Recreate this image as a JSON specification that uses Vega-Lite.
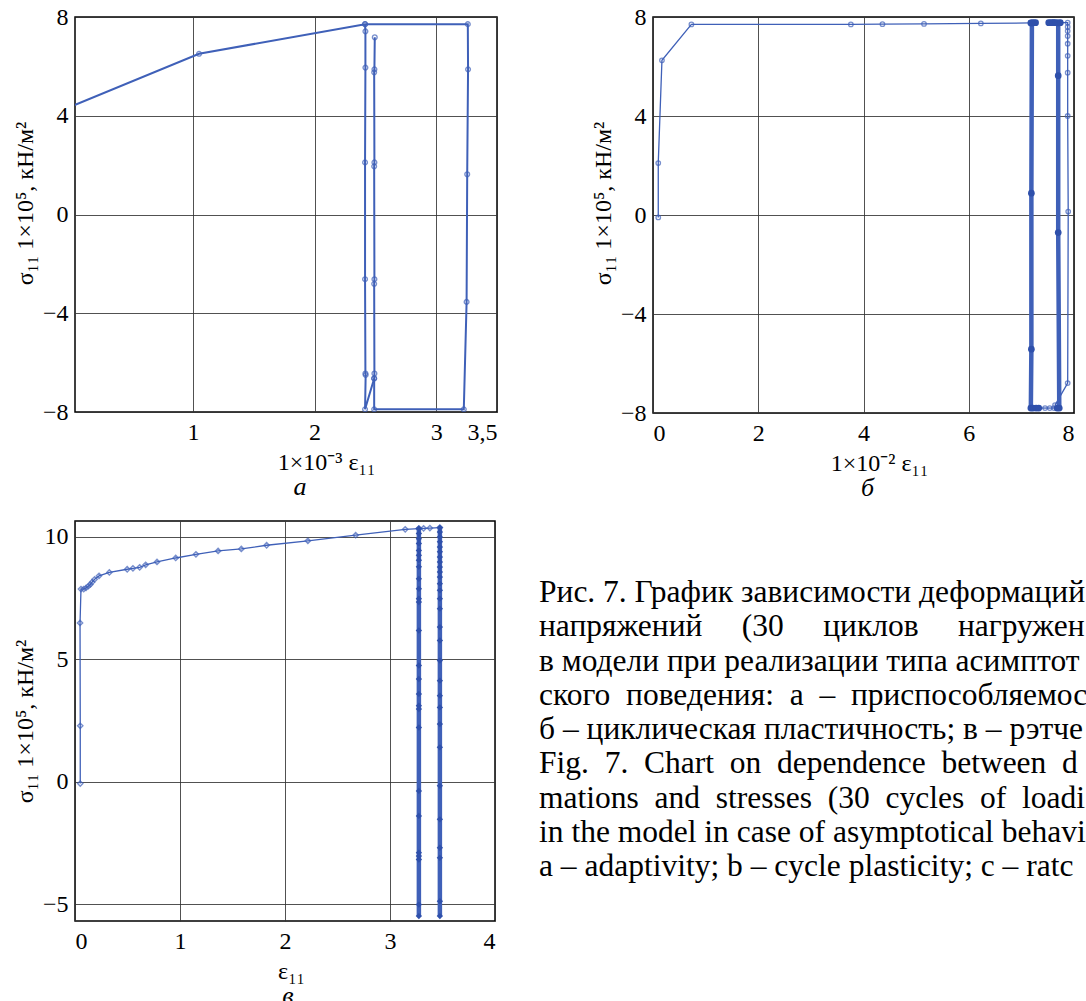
{
  "$schema": "https://vega.github.io/schema/vega-lite/v6.json",
  "background": "white",
  "padding": {"left": 12, "top": 4, "right": 0, "bottom": 0},
  "config": {
    "view": {"stroke": "#000", "strokeWidth": 1.5},
    "axis": {
      "labelFont": "Liberation Serif", "labelFontSize": 24, "labelColor": "#000",
      "titleFont": "Liberation Serif", "titleFontSize": 24, "titleFontWeight": "normal", "titleColor": "#000",
      "grid": true, "gridColor": "#333", "gridWidth": 1, "gridOpacity": 0.85,
      "domain": false, "ticks": false, "tickSize": 0
    },
    "axisX": {"labelPadding": 8, "titlePadding": 6},
    "axisY": {"labelPadding": 7, "titlePadding": 5},
    "title": {"font": "Liberation Serif", "fontSize": 26, "fontStyle": "italic", "fontWeight": "normal", "color": "#000"}
  },
  "datasets": {
    "a": [
      {"i": 1, "seg": 1, "x": 0, "y": 4.38},
      {"i": 2, "seg": 1, "x": 1.05, "y": 6.51},
      {"i": 3, "seg": 1, "x": 2.415, "y": 7.71},
      {"i": 4, "seg": 1, "x": 3.26, "y": 7.71},
      {"i": 5, "seg": 1, "x": 3.262, "y": 5.88},
      {"i": 6, "seg": 1, "x": 3.255, "y": 1.63},
      {"i": 7, "seg": 1, "x": 3.25, "y": -3.54},
      {"i": 8, "seg": 1, "x": 3.227, "y": -7.89},
      {"i": 9, "seg": 1, "x": 2.49, "y": -7.89},
      {"i": 10, "seg": 1, "x": 2.49, "y": -6.64},
      {"i": 11, "seg": 1, "x": 2.492, "y": -6.44},
      {"i": 12, "seg": 1, "x": 2.49, "y": -2.81},
      {"i": 13, "seg": 1, "x": 2.492, "y": -2.62},
      {"i": 14, "seg": 1, "x": 2.49, "y": 1.95},
      {"i": 15, "seg": 1, "x": 2.492, "y": 2.11},
      {"i": 16, "seg": 1, "x": 2.49, "y": 5.76},
      {"i": 17, "seg": 1, "x": 2.492, "y": 5.88},
      {"i": 18, "seg": 1, "x": 2.495, "y": 7.18},
      {"i": 19, "seg": 2, "x": 2.415, "y": 7.71},
      {"i": 20, "seg": 2, "x": 2.418, "y": 7.42},
      {"i": 21, "seg": 2, "x": 2.418, "y": 5.95},
      {"i": 22, "seg": 2, "x": 2.415, "y": 2.11},
      {"i": 23, "seg": 2, "x": 2.415, "y": -2.62},
      {"i": 24, "seg": 2, "x": 2.418, "y": -6.44},
      {"i": 25, "seg": 2, "x": 2.42, "y": -6.5},
      {"i": 26, "seg": 2, "x": 2.415, "y": -7.89},
      {"i": 27, "seg": 2, "x": 2.49, "y": -6.64}
    ],
    "b": [
      {"i": 1, "seg": 1, "part": "load", "x": 0.1, "y": -0.1},
      {"i": 2, "seg": 1, "part": "load", "x": 0.1, "y": 2.1},
      {"i": 3, "seg": 1, "part": "load", "x": 0.17, "y": 6.25},
      {"i": 4, "seg": 1, "part": "load", "x": 0.73, "y": 7.7},
      {"i": 5, "seg": 1, "part": "load", "x": 3.76, "y": 7.7},
      {"i": 6, "seg": 1, "part": "load", "x": 4.36, "y": 7.71},
      {"i": 7, "seg": 1, "part": "load", "x": 5.15, "y": 7.72},
      {"i": 8, "seg": 1, "part": "load", "x": 6.23, "y": 7.74},
      {"i": 9, "seg": 1, "part": "load", "x": 7.18, "y": 7.76},
      {"i": 10, "seg": 2, "part": "cyc", "x": 7.18, "y": 7.76},
      {"i": 11, "seg": 2, "part": "cyc", "x": 7.23, "y": 7.77},
      {"i": 12, "seg": 2, "part": "cyc", "x": 7.27, "y": 7.77},
      {"i": 13, "seg": 2, "part": "cyc", "x": 7.2, "y": 7.76},
      {"i": 14, "seg": 2, "part": "cyc", "x": 7.19, "y": 0.88},
      {"i": 15, "seg": 2, "part": "cyc", "x": 7.19, "y": -5.42},
      {"i": 16, "seg": 2, "part": "cyc", "x": 7.18, "y": -7.8},
      {"i": 17, "seg": 2, "part": "cyc", "x": 7.22, "y": -7.8},
      {"i": 18, "seg": 2, "part": "cyc", "x": 7.28, "y": -7.8},
      {"i": 19, "seg": 2, "part": "cyc", "x": 7.33, "y": -7.8},
      {"i": 20, "seg": 3, "part": "load", "x": 7.33, "y": -7.8},
      {"i": 21, "seg": 3, "part": "load", "x": 7.45, "y": -7.8},
      {"i": 22, "seg": 3, "part": "load", "x": 7.54, "y": -7.8},
      {"i": 23, "seg": 3, "part": "load", "x": 7.62, "y": -7.8},
      {"i": 24, "seg": 3, "part": "load", "x": 7.68, "y": -7.8},
      {"i": 25, "seg": 4, "part": "cyc", "x": 7.68, "y": -7.8},
      {"i": 26, "seg": 4, "part": "cyc", "x": 7.72, "y": -7.8},
      {"i": 27, "seg": 4, "part": "cyc", "x": 7.7, "y": -0.71},
      {"i": 28, "seg": 4, "part": "cyc", "x": 7.7, "y": 5.63},
      {"i": 29, "seg": 4, "part": "cyc", "x": 7.7, "y": 7.76},
      {"i": 30, "seg": 4, "part": "cyc", "x": 7.62, "y": 7.77},
      {"i": 31, "seg": 4, "part": "cyc", "x": 7.56, "y": 7.77},
      {"i": 32, "seg": 4, "part": "cyc", "x": 7.52, "y": 7.77},
      {"i": 33, "seg": 4, "part": "cyc", "x": 7.6, "y": 7.77},
      {"i": 34, "seg": 4, "part": "cyc", "x": 7.66, "y": 7.77},
      {"i": 35, "seg": 4, "part": "cyc", "x": 7.74, "y": 7.77},
      {"i": 36, "seg": 5, "part": "load", "x": 7.74, "y": 7.77},
      {"i": 37, "seg": 5, "part": "load", "x": 7.88, "y": 7.77},
      {"i": 38, "seg": 5, "part": "load", "x": 7.88, "y": 7.6},
      {"i": 39, "seg": 5, "part": "load", "x": 7.88, "y": 7.43},
      {"i": 40, "seg": 5, "part": "load", "x": 7.88, "y": 7.23},
      {"i": 41, "seg": 5, "part": "load", "x": 7.88, "y": 6.92},
      {"i": 42, "seg": 5, "part": "load", "x": 7.88, "y": 6.43},
      {"i": 43, "seg": 5, "part": "load", "x": 7.88, "y": 5.75},
      {"i": 44, "seg": 5, "part": "load", "x": 7.88, "y": 4.0},
      {"i": 45, "seg": 5, "part": "load", "x": 7.89, "y": 0.14},
      {"i": 46, "seg": 5, "part": "load", "x": 7.88, "y": -6.79},
      {"i": 47, "seg": 5, "part": "load", "x": 7.64, "y": -7.68}
    ],
    "c": [
      {"i": 1, "seg": 1, "part": "load", "x": 0.05, "y": -0.07},
      {"i": 2, "seg": 1, "part": "load", "x": 0.05, "y": 2.29},
      {"i": 3, "seg": 1, "part": "load", "x": 0.048, "y": 6.49},
      {"i": 4, "seg": 1, "part": "load", "x": 0.057, "y": 7.87},
      {"i": 5, "seg": 1, "part": "load", "x": 0.083, "y": 7.87},
      {"i": 6, "seg": 1, "part": "load", "x": 0.105, "y": 7.92},
      {"i": 7, "seg": 1, "part": "load", "x": 0.127, "y": 7.99},
      {"i": 8, "seg": 1, "part": "load", "x": 0.146, "y": 8.06},
      {"i": 9, "seg": 1, "part": "load", "x": 0.162, "y": 8.15},
      {"i": 10, "seg": 1, "part": "load", "x": 0.187, "y": 8.27},
      {"i": 11, "seg": 1, "part": "load", "x": 0.229, "y": 8.41},
      {"i": 12, "seg": 1, "part": "load", "x": 0.327, "y": 8.55},
      {"i": 13, "seg": 1, "part": "load", "x": 0.497, "y": 8.68},
      {"i": 14, "seg": 1, "part": "load", "x": 0.552, "y": 8.72},
      {"i": 15, "seg": 1, "part": "load", "x": 0.616, "y": 8.76},
      {"i": 16, "seg": 1, "part": "load", "x": 0.673, "y": 8.86},
      {"i": 17, "seg": 1, "part": "load", "x": 0.781, "y": 8.98},
      {"i": 18, "seg": 1, "part": "load", "x": 0.959, "y": 9.14},
      {"i": 19, "seg": 1, "part": "load", "x": 1.152, "y": 9.29},
      {"i": 20, "seg": 1, "part": "load", "x": 1.363, "y": 9.43},
      {"i": 21, "seg": 1, "part": "load", "x": 1.584, "y": 9.51},
      {"i": 22, "seg": 1, "part": "load", "x": 1.825, "y": 9.66},
      {"i": 23, "seg": 1, "part": "load", "x": 2.218, "y": 9.84},
      {"i": 24, "seg": 1, "part": "load", "x": 2.673, "y": 10.07},
      {"i": 25, "seg": 1, "part": "load", "x": 3.145, "y": 10.31},
      {"i": 26, "seg": 1, "part": "load", "x": 3.275, "y": 10.34},
      {"i": 27, "seg": 2, "part": "cyc", "x": 3.275, "y": 10.34},
      {"i": 28, "seg": 2, "part": "cyc", "x": 3.275, "y": 10.14},
      {"i": 29, "seg": 2, "part": "cyc", "x": 3.275, "y": 9.93},
      {"i": 30, "seg": 2, "part": "cyc", "x": 3.275, "y": 9.73},
      {"i": 31, "seg": 2, "part": "cyc", "x": 3.275, "y": 9.45},
      {"i": 32, "seg": 2, "part": "cyc", "x": 3.275, "y": 9.25},
      {"i": 33, "seg": 2, "part": "cyc", "x": 3.275, "y": 9.05},
      {"i": 34, "seg": 2, "part": "cyc", "x": 3.275, "y": 8.78},
      {"i": 35, "seg": 2, "part": "cyc", "x": 3.275, "y": 8.29},
      {"i": 36, "seg": 2, "part": "cyc", "x": 3.275, "y": 7.88},
      {"i": 37, "seg": 2, "part": "cyc", "x": 3.275, "y": 7.48},
      {"i": 38, "seg": 2, "part": "cyc", "x": 3.275, "y": 7.34},
      {"i": 39, "seg": 2, "part": "cyc", "x": 3.275, "y": 6.18},
      {"i": 40, "seg": 2, "part": "cyc", "x": 3.275, "y": 4.75},
      {"i": 41, "seg": 2, "part": "cyc", "x": 3.275, "y": 4.2},
      {"i": 42, "seg": 2, "part": "cyc", "x": 3.275, "y": 3.59},
      {"i": 43, "seg": 2, "part": "cyc", "x": 3.275, "y": 3.11},
      {"i": 44, "seg": 2, "part": "cyc", "x": 3.275, "y": 2.97},
      {"i": 45, "seg": 2, "part": "cyc", "x": 3.275, "y": 2.22},
      {"i": 46, "seg": 2, "part": "cyc", "x": 3.275, "y": -0.37},
      {"i": 47, "seg": 2, "part": "cyc", "x": 3.275, "y": -1.39},
      {"i": 48, "seg": 2, "part": "cyc", "x": 3.275, "y": -2.89},
      {"i": 49, "seg": 2, "part": "cyc", "x": 3.275, "y": -3.03},
      {"i": 50, "seg": 2, "part": "cyc", "x": 3.275, "y": -3.17},
      {"i": 51, "seg": 2, "part": "cyc", "x": 3.275, "y": -5.01},
      {"i": 52, "seg": 2, "part": "cyc", "x": 3.275, "y": -5.48},
      {"i": 53, "seg": 3, "part": "load", "x": 3.275, "y": 10.34},
      {"i": 54, "seg": 3, "part": "load", "x": 3.32, "y": 10.35},
      {"i": 55, "seg": 3, "part": "load", "x": 3.38, "y": 10.36},
      {"i": 56, "seg": 3, "part": "load", "x": 3.475, "y": 10.38},
      {"i": 57, "seg": 4, "part": "cyc", "x": 3.475, "y": 10.38},
      {"i": 58, "seg": 4, "part": "cyc", "x": 3.475, "y": 10.2},
      {"i": 59, "seg": 4, "part": "cyc", "x": 3.475, "y": 10.0},
      {"i": 60, "seg": 4, "part": "cyc", "x": 3.475, "y": 9.8},
      {"i": 61, "seg": 4, "part": "cyc", "x": 3.475, "y": 9.59},
      {"i": 62, "seg": 4, "part": "cyc", "x": 3.475, "y": 9.39},
      {"i": 63, "seg": 4, "part": "cyc", "x": 3.475, "y": 9.18},
      {"i": 64, "seg": 4, "part": "cyc", "x": 3.475, "y": 8.98},
      {"i": 65, "seg": 4, "part": "cyc", "x": 3.475, "y": 8.77},
      {"i": 66, "seg": 4, "part": "cyc", "x": 3.475, "y": 8.57},
      {"i": 67, "seg": 4, "part": "cyc", "x": 3.475, "y": 8.36},
      {"i": 68, "seg": 4, "part": "cyc", "x": 3.475, "y": 8.09},
      {"i": 69, "seg": 4, "part": "cyc", "x": 3.475, "y": 7.82},
      {"i": 70, "seg": 4, "part": "cyc", "x": 3.475, "y": 7.48},
      {"i": 71, "seg": 4, "part": "cyc", "x": 3.475, "y": 7.07},
      {"i": 72, "seg": 4, "part": "cyc", "x": 3.475, "y": 6.32},
      {"i": 73, "seg": 4, "part": "cyc", "x": 3.475, "y": 5.77},
      {"i": 74, "seg": 4, "part": "cyc", "x": 3.475, "y": 4.95},
      {"i": 75, "seg": 4, "part": "cyc", "x": 3.475, "y": 4.13},
      {"i": 76, "seg": 4, "part": "cyc", "x": 3.475, "y": 3.52},
      {"i": 77, "seg": 4, "part": "cyc", "x": 3.475, "y": 3.04},
      {"i": 78, "seg": 4, "part": "cyc", "x": 3.475, "y": 2.36},
      {"i": 79, "seg": 4, "part": "cyc", "x": 3.475, "y": 1.41},
      {"i": 80, "seg": 4, "part": "cyc", "x": 3.475, "y": -0.16},
      {"i": 81, "seg": 4, "part": "cyc", "x": 3.475, "y": -1.53},
      {"i": 82, "seg": 4, "part": "cyc", "x": 3.475, "y": -2.69},
      {"i": 83, "seg": 4, "part": "cyc", "x": 3.475, "y": -3.1},
      {"i": 84, "seg": 4, "part": "cyc", "x": 3.475, "y": -4.87},
      {"i": 85, "seg": 4, "part": "cyc", "x": 3.475, "y": -5.48}
    ],
    "cap": [
      {"line": 1, "text": "Рис. 7. График зависимости деформаций и"},
      {"line": 2, "text": "напряжений\u00a0\u00a0\u00a0\u00a0\u00a0(30\u00a0\u00a0\u00a0\u00a0\u00a0циклов\u00a0\u00a0\u00a0\u00a0\u00a0нагружения)"},
      {"line": 3, "text": "в модели при реализации типа асимптотиче-"},
      {"line": 4, "text": "ского\u00a0\u00a0поведения:\u00a0\u00a0а\u00a0\u00a0–\u00a0\u00a0приспособляемость;"},
      {"line": 5, "text": "б – циклическая пластичность; в – рэтчетинг"},
      {"line": 6, "text": "Fig.\u00a0\u00a07.\u00a0\u00a0Chart\u00a0\u00a0on\u00a0\u00a0dependence\u00a0\u00a0between\u00a0\u00a0defor-"},
      {"line": 7, "text": "mations\u00a0\u00a0and\u00a0\u00a0stresses\u00a0\u00a0(30\u00a0\u00a0cycles\u00a0\u00a0of\u00a0\u00a0loading)"},
      {"line": 8, "text": "in the model in case of asymptotical behavior:"},
      {"line": 9, "text": "a – adaptivity; b – cycle plasticity; c – ratcheting"}
    ]
  },
  "vconcat": [
    {
      "hconcat": [
        {
          "width": 422, "height": 395,
          "data": {"name": "a"},
          "title": {"text": "а", "orient": "bottom", "dx": 14, "offset": 0},
          "layer": [
            {
              "mark": {"type": "line", "color": "#3f60b8", "strokeWidth": 2, "clip": true},
              "encoding": {
                "x": {"field": "x", "type": "quantitative", "scale": {"domain": [0.03, 3.5], "nice": false, "zero": false},
                      "axis": {"values": [1, 2, 3, 3.5], "format": "~g", "labelExpr": "replace(datum.label, '.', ',')", "title": "1×10⁻³ ε₁₁", "titleX": 251}},
                "y": {"field": "y", "type": "quantitative", "scale": {"domain": [-8, 8], "nice": false},
                      "axis": {"values": [-8, -4, 0, 4, 8], "format": "d", "title": "σ₁₁ 1×10⁵, кН/м²", "titleY": 186}},
                "order": {"field": "i", "type": "quantitative"},
                "detail": {"field": "seg", "type": "nominal"}
              }
            },
            {
              "mark": {"type": "point", "shape": "circle", "filled": false, "size": 22, "strokeWidth": 1.4, "color": "#3f60b8", "clip": true},
              "encoding": {
                "x": {"field": "x", "type": "quantitative"},
                "y": {"field": "y", "type": "quantitative"}
              }
            }
          ]
        },
        {
          "width": 421, "height": 396,
          "data": {"name": "b"},
          "title": {"text": "б", "orient": "bottom", "dx": 4, "offset": 0},
          "layer": [
            {
              "mark": {"type": "line", "color": "#3f60b8", "clip": true},
              "encoding": {
                "x": {"field": "x", "type": "quantitative", "scale": {"domain": [0, 8], "nice": false},
                      "axis": {"values": [0, 2, 4, 6, 8], "format": "d", "title": "1×10⁻² ε₁₁", "titleX": 226}},
                "y": {"field": "y", "type": "quantitative", "scale": {"domain": [-8, 8], "nice": false},
                      "axis": {"values": [-8, -4, 0, 4, 8], "format": "d", "title": "σ₁₁ 1×10⁵, кН/м²", "titleY": 186}},
                "order": {"field": "i", "type": "quantitative"},
                "detail": {"field": "seg", "type": "nominal"},
                "strokeWidth": {"field": "part", "type": "nominal", "scale": {"domain": ["load", "cyc"], "range": [1.3, 4.5]}, "legend": null}
              }
            },
            {
              "transform": [{"filter": "datum.part == 'load'"}],
              "mark": {"type": "point", "shape": "circle", "filled": false, "size": 20, "strokeWidth": 1.3, "color": "#3f60b8"},
              "encoding": {
                "x": {"field": "x", "type": "quantitative"},
                "y": {"field": "y", "type": "quantitative"}
              }
            },
            {
              "transform": [{"filter": "datum.part == 'cyc'"}],
              "mark": {"type": "point", "shape": "circle", "filled": true, "opacity": 1, "size": 45, "color": "#2f50ab"},
              "encoding": {
                "x": {"field": "x", "type": "quantitative"},
                "y": {"field": "y", "type": "quantitative"}
              }
            }
          ]
        }
      ],
      "spacing": 92
    },
    {
      "hconcat": [
        {
          "width": 420, "height": 400,
          "data": {"name": "c"},
          "title": {"text": "в", "orient": "bottom", "dx": 3, "offset": 0},
          "layer": [
            {
              "mark": {"type": "line", "color": "#3f60b8", "clip": true},
              "encoding": {
                "x": {"field": "x", "type": "quantitative", "scale": {"domain": [0, 4], "nice": false},
                      "axis": {"values": [0, 1, 2, 3, 4], "format": "d", "title": "ε₁₁", "titleX": 216}},
                "y": {"field": "y", "type": "quantitative", "scale": {"domain": [-5.68, 10.65], "nice": false, "zero": false},
                      "axis": {"values": [-5, 0, 5, 10], "format": "d", "title": "σ₁₁ 1×10⁵, кН/м²"}},
                "order": {"field": "i", "type": "quantitative"},
                "detail": {"field": "seg", "type": "nominal"},
                "strokeWidth": {"field": "part", "type": "nominal", "scale": {"domain": ["load", "cyc"], "range": [1.5, 3.8]}, "legend": null}
              }
            },
            {
              "transform": [{"filter": "datum.part == 'load'"}],
              "mark": {"type": "point", "shape": "diamond", "filled": false, "size": 28, "strokeWidth": 1.4, "color": "#3f60b8"},
              "encoding": {
                "x": {"field": "x", "type": "quantitative"},
                "y": {"field": "y", "type": "quantitative"}
              }
            },
            {
              "transform": [{"filter": "datum.part == 'cyc'"}],
              "mark": {"type": "point", "shape": "diamond", "filled": true, "opacity": 1, "size": 40, "color": "#2f50ab"},
              "encoding": {
                "x": {"field": "x", "type": "quantitative"},
                "y": {"field": "y", "type": "quantitative"}
              }
            }
          ]
        },
        {
          "width": 549, "height": 400,
          "data": {"name": "cap"},
          "view": {"stroke": null},
          "mark": {"type": "text", "align": "left", "baseline": "middle", "font": "Liberation Serif", "fontSize": 31.5, "color": "#000", "limit": 549, "ellipsis": "\u200b"},
          "encoding": {
            "x": {"datum": 0, "type": "quantitative", "scale": {"domain": [0, 1]}, "axis": null},
            "y": {"field": "line", "type": "quantitative", "scale": {"domain": [-1.11, 10.58], "reverse": true, "nice": false, "zero": false}, "axis": null},
            "text": {"field": "text"}
          }
        }
      ],
      "spacing": 43
    }
  ],
  "spacing": 18
}
